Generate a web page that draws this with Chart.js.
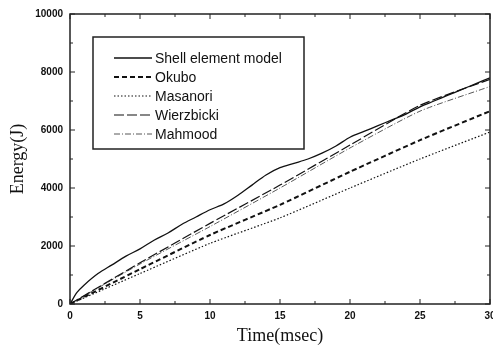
<!DOCTYPE html>
<html>
<head>
<meta charset="utf-8">
<script src="https://cdn.jsdelivr.net/npm/chart.js@4"></script>
<style>
  html, body { margin: 0; padding: 0; background: #fff; }
  #wrap { width: 493px; height: 353px; }
</style>
</head>
<body>
<div id="wrap"><canvas id="energyChart" width="493" height="353"></canvas></div>
<script>
// Dados (tempo em msec, energia em J)
const tempoShell = [0, 0.5, 1, 2, 3, 4, 5, 6, 7, 8, 9, 10, 11, 12, 13, 14, 15, 16, 17, 18, 19, 20, 21, 22, 23, 24, 25, 26, 27, 28, 29, 30];
const energiaShell = [0, 400, 650, 1050, 1350, 1650, 1900, 2200, 2450, 2750, 3000, 3250, 3450, 3750, 4100, 4450, 4700, 4850, 5000, 5200, 5450, 5750, 5950, 6150, 6350, 6550, 6800, 7000, 7200, 7400, 7600, 7800];

const tempoModelos = [0, 5, 10, 15, 20, 25, 30];
const energiaOkubo = [0, 1200, 2380, 3420, 4560, 5650, 6650];
const energiaMasanori = [0, 1050, 2090, 2970, 4000, 5000, 5930];
const energiaWierzbicki = [0, 1420, 2780, 4100, 5480, 6850, 7750];
const energiaMahmood = [0, 1380, 2670, 4000, 5380, 6650, 7500];

const ticksX = [0, 5, 10, 15, 20, 25, 30];
const ticksY = [0, 2000, 4000, 6000, 8000, 10000];

function pares(xs, ys) {
  return xs.map((x, i) => ({ x: x, y: ys[i] }));
}

// Moldura, ticks internos e legenda dentro da área do gráfico
const molduraPlugin = {
  id: 'moldura',
  afterDraw(chart) {
    const ctx = chart.ctx;
    const a = chart.chartArea;
    const sx = chart.scales.x;
    const sy = chart.scales.y;
    ctx.save();
    ctx.strokeStyle = '#222';
    ctx.lineWidth = 1.5;
    ctx.setLineDash([]);
    ctx.strokeRect(a.left, a.top, a.right - a.left, a.bottom - a.top);

    ctx.lineWidth = 1;
    for (let v = 0; v <= 30; v += 2.5) {
      const px = sx.getPixelForValue(v);
      const len = v % 5 === 0 ? 5 : 3;
      ctx.beginPath();
      ctx.moveTo(px, a.bottom); ctx.lineTo(px, a.bottom - len);
      ctx.moveTo(px, a.top); ctx.lineTo(px, a.top + len);
      ctx.stroke();
    }
    for (let v = 0; v <= 10000; v += 1000) {
      const py = sy.getPixelForValue(v);
      const len = v % 2000 === 0 ? 5 : 3;
      ctx.beginPath();
      ctx.moveTo(a.left, py); ctx.lineTo(a.left + len, py);
      ctx.moveTo(a.right, py); ctx.lineTo(a.right - len, py);
      ctx.stroke();
    }

    // Legenda
    const bx = 93, by = 37, bw = 211, bh = 112;
    ctx.fillStyle = '#fff';
    ctx.fillRect(bx, by, bw, bh);
    ctx.lineWidth = 1.5;
    ctx.strokeStyle = '#222';
    ctx.strokeRect(bx, by, bw, bh);
    ctx.font = '14px "Liberation Sans", Arial, sans-serif';
    ctx.textBaseline = 'middle';
    chart.data.datasets.forEach((ds, i) => {
      const y = 58 + i * 19;
      ctx.strokeStyle = ds.borderColor;
      ctx.lineWidth = ds.borderWidth;
      ctx.setLineDash(ds.borderDash || []);
      ctx.beginPath();
      ctx.moveTo(114, y); ctx.lineTo(152, y);
      ctx.stroke();
      ctx.setLineDash([]);
      ctx.fillStyle = '#111';
      ctx.fillText(ds.label, 155, y + 1);
    });
    ctx.restore();
  }
};

const fonteTicks = { family: '"Liberation Sans", Arial, sans-serif', size: 10, weight: 'bold' };

new Chart(document.getElementById('energyChart').getContext('2d'), {
  type: 'line',
  data: {
    datasets: [
      {
        label: 'Shell element model',
        data: pares(tempoShell, energiaShell),
        borderColor: '#111',
        borderWidth: 1.3,
        tension: 0.3
      },
      {
        label: 'Okubo',
        data: pares(tempoModelos, energiaOkubo),
        borderColor: '#111',
        borderWidth: 2,
        borderDash: [5, 3],
        tension: 0.2
      },
      {
        label: 'Masanori',
        data: pares(tempoModelos, energiaMasanori),
        borderColor: '#111',
        borderWidth: 1.2,
        borderDash: [1.5, 2],
        tension: 0.2
      },
      {
        label: 'Wierzbicki',
        data: pares(tempoModelos, energiaWierzbicki),
        borderColor: '#111',
        borderWidth: 1.2,
        borderDash: [10, 3],
        tension: 0.2
      },
      {
        label: 'Mahmood',
        data: pares(tempoModelos, energiaMahmood),
        borderColor: '#444',
        borderWidth: 0.9,
        borderDash: [6, 2, 1, 2],
        tension: 0.2
      }
    ]
  },
  options: {
    responsive: false,
    animation: false,
    layout: { padding: { left: 7, right: 3, top: 14, bottom: 0 } },
    elements: { point: { radius: 0 } },
    plugins: {
      legend: { display: false },
      tooltip: { enabled: false }
    },
    scales: {
      x: {
        type: 'linear',
        min: 0,
        max: 30,
        afterFit: function (scale) {
          scale.height = 49;
          scale.paddingLeft = 0;
          scale.paddingRight = 0;
        },
        afterBuildTicks: function (scale) { scale.ticks = ticksX.map(v => ({ value: v })); },
        grid: { display: false, drawTicks: false },
        border: { display: false },
        ticks: {
          color: '#111',
          padding: 6,
          maxRotation: 0,
          font: fonteTicks,
          callback: v => String(v)
        },
        title: {
          display: true,
          text: 'Time(msec)',
          color: '#111',
          padding: { top: 0, bottom: 6 },
          font: { family: '"Liberation Serif", "Times New Roman", serif', size: 18 }
        }
      },
      y: {
        min: 0,
        max: 10000,
        afterFit: function (scale) {
          scale.width = 63;
          scale.paddingTop = 0;
          scale.paddingBottom = 0;
        },
        afterBuildTicks: function (scale) { scale.ticks = ticksY.map(v => ({ value: v })); },
        grid: { display: false, drawTicks: false },
        border: { display: false },
        ticks: {
          color: '#111',
          padding: 7,
          font: fonteTicks,
          callback: v => String(v)
        },
        title: {
          display: true,
          text: 'Energy(J)',
          color: '#111',
          padding: { top: 0, bottom: 4 },
          font: { family: '"Liberation Serif", "Times New Roman", serif', size: 18 }
        }
      }
    }
  },
  plugins: [molduraPlugin]
});
</script>
</body>
</html>
